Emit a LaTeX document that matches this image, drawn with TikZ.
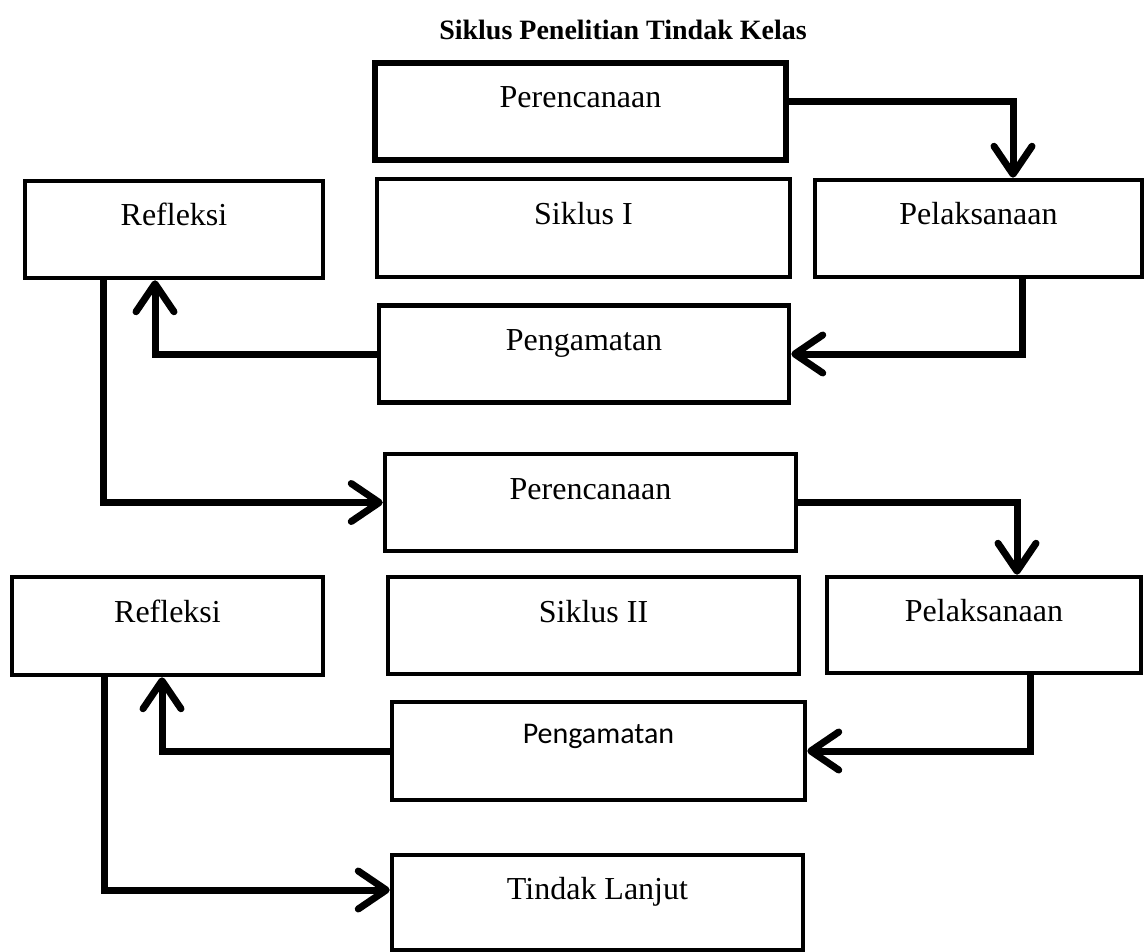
\documentclass[tikz,border=0pt]{standalone}
\usepackage{fontspec}
\setmainfont{Liberation Serif}
\newfontfamily\calibrifont{Carlito}
\usepackage{tikz}
\usetikzlibrary{arrows.meta}
\usetikzlibrary{positioning}

\begin{document}
\begin{tikzpicture}[x=1pt, y=-1pt, line join=miter]
		\tikzstyle{box}=[rectangle, draw=black, line width=4.5pt, inner sep=0pt, font=\fontsize{32}{37}\selectfont, text height=21pt, text depth=28pt]
		\tikzstyle{arr}=[->, line width=7pt, draw=black]
		\tikzset{>={Straight Barb[length=28pt, width=38pt, round]}}
		\useasboundingbox (0,0) rectangle (1144,952);

		\node[font=\fontsize{28}{32}\selectfont\bfseries] (judul) at (623,30) {Siklus Penelitian Tindak Kelas};

		%siklus I
		\node[box, line width=6pt, minimum width=411, minimum height=97] (plan1) at (580.5,111.5) {Perencanaan};
		\node[box, minimum width=413, minimum height=98] (siklus1) at (583.5,228) {Siklus I};
		\node[box, minimum width=298, minimum height=97] (refl1) at (174,229.5) {Refleksi};
		\node[box, minimum width=327, minimum height=97] (laks1) at (978.5,228.5) {Pelaksanaan};
		\node[box, minimum width=410, minimum height=97] (amat1) at (584,354) {Pengamatan};

		\draw[arr] ([yshift=9.5pt]plan1.east) -| ([xshift=34.5pt]laks1.north);
		\draw[arr] ([xshift=43.5pt]laks1.south) |- (amat1.east);
		\draw[arr] (amat1.west) -| ([xshift=-19pt]refl1.south);

		%siklus II
		\node[box, minimum width=411, minimum height=97] (plan2) at (590.5,502.5) {Perencanaan};
		\node[box, minimum width=411, minimum height=97] (siklus2) at (593.5,625.5) {Siklus II};
		\node[box, minimum width=311, minimum height=98] (refl2) at (167.5,626) {Refleksi};
		\node[box, minimum width=314, minimum height=96] (laks2) at (984,625) {Pelaksanaan};
		\node[box, font=\calibrifont\fontsize{30}{35}\selectfont, text depth=37pt, minimum width=413, minimum height=98] (amat2) at (598.5,751) {Pengamatan};
		\node[box, minimum width=411, minimum height=95] (lanjut) at (597.5,902.5) {Tindak Lanjut};

		\draw[arr] ([xshift=-71pt]refl1.south) |- (plan2.west);
		\draw[arr] (plan2.east) -| ([xshift=33pt]laks2.north);
		\draw[arr] ([xshift=46pt]laks2.south) |- (amat2.east);
		\draw[arr] (amat2.west) -| ([xshift=-5.5pt]refl2.south);
		\draw[arr] ([xshift=-63pt]refl2.south) |- ([yshift=12.5pt]lanjut.west);
\end{tikzpicture}
\end{document}
